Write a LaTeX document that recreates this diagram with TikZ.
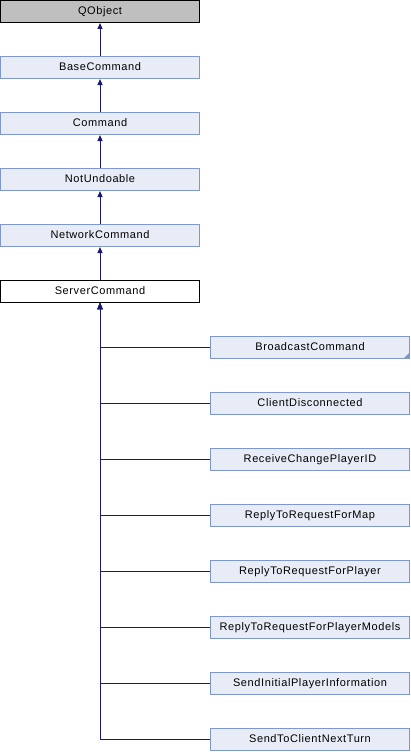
\documentclass[tikz,border=0pt]{standalone}
\usepackage{fontspec}
\setmainfont{Liberation Sans}[LetterSpace=5.5]
\usetikzlibrary{arrows.meta}
\definecolor{edgeblue}{HTML}{191970}
\definecolor{boxfill}{HTML}{E8ECF6}
\definecolor{boxline}{HTML}{7F98CC}
\tikzset{
  cls/.style={draw=boxline, fill=boxfill, line width=1pt, minimum width=199pt, minimum height=22pt,
    inner sep=0pt, text height=8pt, text depth=2pt, font=\fontsize{11}{13}\selectfont},
  gray/.style={cls, draw=black, fill=black!25},
  cur/.style={cls, draw=black, fill=white},
  arr/.style={draw=edgeblue, line width=1pt, -{Triangle[width=5pt,length=6pt]}},
  ln/.style={draw=edgeblue, line width=1pt}
}
\begin{document}
\begin{tikzpicture}[x=1pt,y=-1pt]
\useasboundingbox (0,0) rectangle (410,752);
\node[gray] (qo) at (100,11.5) {QObject};
\node[cls] (bc) at (100,67.5) {BaseCommand};
\node[cls] (cm) at (100,123.5) {Command};
\node[cls] (nu) at (100,179.5) {NotUndoable};
\node[cls] (nc) at (100,235.5) {NetworkCommand};
\node[cur] (sc) at (100,291.5) {ServerCommand};
\node[cls] (r1) at (310,347.5) {BroadcastCommand};
\node[cls] (r2) at (310,403.5) {ClientDisconnected};
\node[cls] (r3) at (310,459.5) {ReceiveChangePlayerID};
\node[cls] (r4) at (310,515.5) {ReplyToRequestForMap};
\node[cls] (r5) at (310,571.5) {ReplyToRequestForPlayer};
\node[cls] (r6) at (310,627.5) {ReplyToRequestForPlayerModels};
\node[cls] (r7) at (310,683.5) {SendInitialPlayerInformation};
\node[cls] (r8) at (310,739.5) {SendToClientNextTurn};
\fill[boxline] (r1.south east) ++(-0.5,-0.5) -- ++(0,-6) -- ++(-6,6) -- cycle;
\draw[arr] (bc) -- (qo);
\draw[arr] (cm) -- (bc);
\draw[arr] (nu) -- (cm);
\draw[arr] (nc) -- (nu);
\draw[arr] (sc) -- (nc);
\foreach \r in {r1,r2,r3,r4,r5,r6,r7,r8} {
  \draw[arr] (\r.west) -| (sc.south);
}
\end{tikzpicture}
\end{document}
